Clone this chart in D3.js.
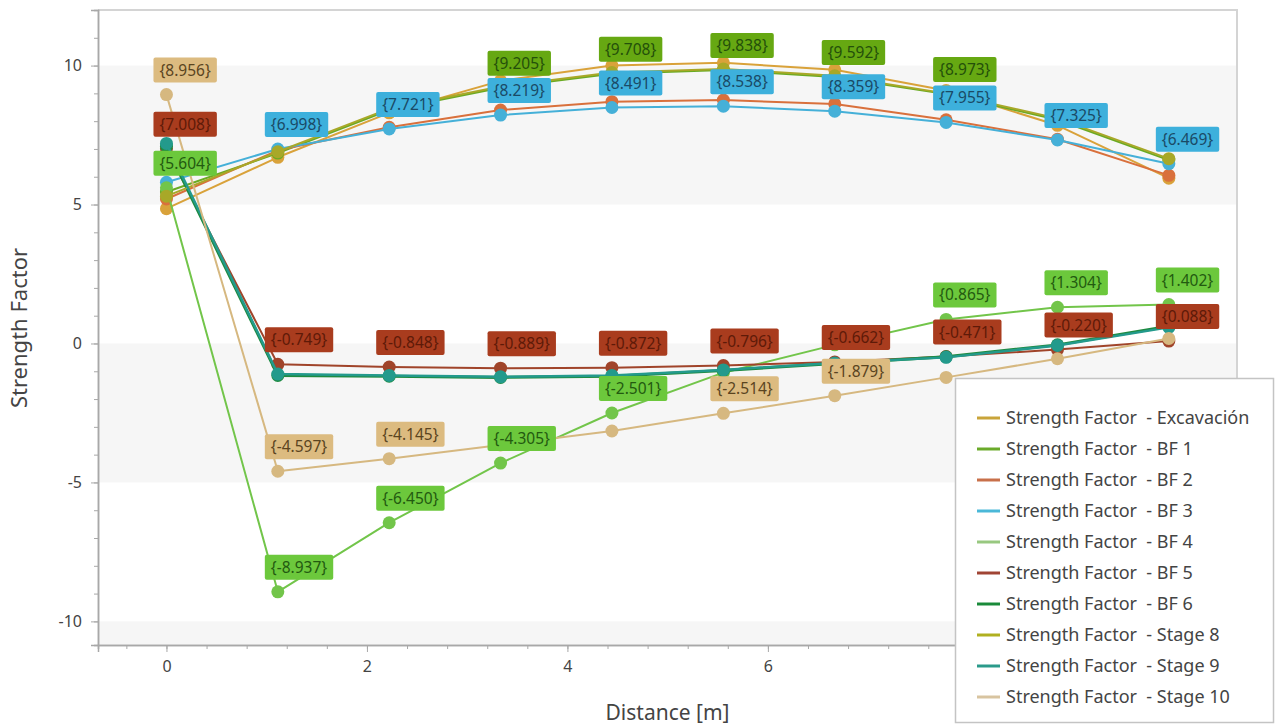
<!DOCTYPE html>
<html>
<head>
<meta charset="utf-8">
<script src="https://cdn.jsdelivr.net/npm/d3@7"></script>
<style>
  html, body { margin: 0; padding: 0; background: #ffffff; }
  svg { display: block; font-family: "Noto Sans", "Open Sans", sans-serif; }
</style>
</head>
<body>
<svg id="chart" width="1275" height="726"></svg>
<script>
// Distance along the section [m]
const distances = [0, 1.111, 2.222, 3.333, 4.444, 5.556, 6.667, 7.778, 8.889, 10];

// Strength factor per stage
const excavacion = [4.85, 6.70, 8.30, 9.45, 10.00, 10.10, 9.85, 9.10, 7.85, 5.95];
const bf1        = [5.45, 6.85, 8.40, 9.205, 9.708, 9.838, 9.592, 8.973, 8.05, 6.60];
const bf2        = [5.20, 6.95, 7.78, 8.40, 8.70, 8.76, 8.62, 8.05, 7.35, 6.05];
const bf3        = [5.80, 6.998, 7.721, 8.219, 8.491, 8.538, 8.359, 7.955, 7.325, 6.469];
const bf4        = [5.604, -8.937, -6.450, -4.305, -2.501, -1.05, -0.05, 0.865, 1.304, 1.402];
const bf5        = [7.008, -0.749, -0.848, -0.889, -0.872, -0.796, -0.662, -0.471, -0.220, 0.088];
const bf6        = [7.10, -1.15, -1.18, -1.22, -1.18, -0.97, -0.72, -0.48, -0.05, 0.62];
const stage8     = [5.30, 6.90, 8.45, 9.25, 9.75, 9.88, 9.63, 9.00, 8.10, 6.65];
const stage9     = [7.20, -1.10, -1.15, -1.20, -1.15, -0.95, -0.70, -0.50, -0.07, 0.58];
const stage10    = [8.956, -4.597, -4.145, -3.65, -3.15, -2.514, -1.879, -1.22, -0.55, 0.18];

const seriesNames = [
  "Strength Factor  - Excavación",
  "Strength Factor  - BF 1",
  "Strength Factor  - BF 2",
  "Strength Factor  - BF 3",
  "Strength Factor  - BF 4",
  "Strength Factor  - BF 5",
  "Strength Factor  - BF 6",
  "Strength Factor  - Stage 8",
  "Strength Factor  - Stage 9",
  "Strength Factor  - Stage 10"
];
const seriesValues = [excavacion, bf1, bf2, bf3, bf4, bf5, bf6, stage8, stage9, stage10];
const lineColors = ["#d9a23a", "#6aaa22", "#d9703c", "#45b0d8", "#72c54a",
                    "#a0442a", "#1e8a40", "#a8a828", "#239a8c", "#d6b880"];
const legendColors = ["#c9a43a", "#6aaa2a", "#c8704a", "#4ab8d8", "#98c880",
                      "#a04434", "#1a8a3a", "#b0b020", "#2a9a8a", "#d8c4a0"];
const lineWidths = [2, 2, 2, 2, 2, 2, 3, 2, 2.5, 2];

// Value tags shown on the chart (series index, point indices)
const tagSeries  = [9, 5, 4, 3, 1];
const tagPoints  = [
  [0, 1, 2, 5, 6],
  [0, 1, 2, 3, 4, 5, 6, 7, 8, 9],
  [0, 1, 2, 3, 4, 7, 8, 9],
  [1, 2, 3, 4, 5, 6, 7, 8, 9],
  [3, 4, 5, 6, 7]
];
const tagFill = { 9: "#dcbb80", 5: "#a93c1e", 4: "#6cc83c", 3: "#3db0dc", 1: "#66a812" };
const tagText = { 9: "#5a4420", 5: "#5e1a08", 4: "#235a10", 3: "#1a4a66", 1: "#24500a" };

// tick labels (8 and 10 sit under the legend)
const xTickValues = [0, 2, 4, 6, 8, 10];
const xTickLabels = ["0", "2", "4", "6", "", ""];
const yTickValues = [-10, -5, 0, 5, 10];
const yTickLabels = ["-10", "-5", "0", "5", "10"];
const bandRanges = [[5, 10], [-5, 0], [-15, -10]];

const svg = d3.select("#chart");
const plotLeft = 98, plotRight = 1237, plotTop = 10, plotBottom = 645;

const x = d3.scaleLinear().domain([-0.683, 10.68]).range([plotLeft, plotRight]);
const y = d3.scaleLinear().domain([-10.85, 12.0]).range([plotBottom, plotTop]);

// alternating background bands
svg.append("g").selectAll("rect").data(bandRanges).join("rect")
  .attr("x", plotLeft)
  .attr("width", plotRight - plotLeft)
  .attr("y", d => y(Math.min(d[1], 12)))
  .attr("height", d => y(Math.max(d[0], -10.85)) - y(Math.min(d[1], 12)))
  .attr("fill", "#f6f6f6");

// frame (top, right)
svg.append("path")
  .attr("d", `M${plotLeft},${plotTop}H${plotRight}V${plotBottom}`)
  .attr("fill", "none").attr("stroke", "#d4d4d4").attr("stroke-width", 2);

// axes
const xAxis = svg.append("g").attr("transform", `translate(0,${plotBottom})`)
  .call(d3.axisBottom(x).tickValues(xTickValues).tickSize(7).tickPadding(9)
    .tickFormat((d, i) => xTickLabels[i]));
const xMinor = svg.append("g").attr("transform", `translate(0,${plotBottom})`)
  .call(d3.axisBottom(x).tickValues(d3.range(-0.4, 10.7, 0.4)).tickSize(4).tickFormat(""));
const yAxis = svg.append("g").attr("transform", `translate(${plotLeft},0)`)
  .call(d3.axisLeft(y).tickValues(yTickValues).tickSize(7).tickPadding(9)
    .tickFormat((d, i) => yTickLabels[i]));
const yMinor = svg.append("g").attr("transform", `translate(${plotLeft},0)`)
  .call(d3.axisLeft(y).tickValues(d3.range(-10, 12, 1)).tickSize(4).tickFormat(""));

[xAxis, xMinor, yAxis, yMinor].forEach(g => {
  g.select(".domain").attr("stroke", "#a8a8a8").attr("stroke-width", 1.5);
  g.selectAll(".tick line").attr("stroke", "#a8a8a8");
  g.selectAll(".tick text").attr("fill", "#444").style("font-size", "16px")
    .style("font-family", "'Noto Sans', sans-serif");
});

// axis titles
svg.append("text")
  .attr("x", (plotLeft + plotRight) / 2).attr("y", 720)
  .attr("text-anchor", "middle").attr("fill", "#444")
  .style("font-size", "21px").text("Distance [m]");
svg.append("text")
  .attr("transform", `translate(27,328) rotate(-90)`)
  .attr("text-anchor", "middle").attr("fill", "#444")
  .style("font-size", "22px").text("Strength Factor");

// series lines and markers
const line = d3.line().x((d, i) => x(distances[i])).y(d => y(d));
const plot = svg.append("g");
seriesValues.forEach((vals, s) => {
  const g = plot.append("g");
  g.append("path").datum(vals)
    .attr("d", line).attr("fill", "none")
    .attr("stroke", lineColors[s]).attr("stroke-width", lineWidths[s])
    .attr("stroke-linejoin", "round");
  g.selectAll("circle").data(vals).join("circle")
    .attr("cx", (d, i) => x(distances[i]))
    .attr("cy", d => y(d))
    .attr("r", 6.5)
    .attr("fill", lineColors[s]);
});

// value tags
const tags = svg.append("g");
tagSeries.forEach((s, k) => {
  tagPoints[k].forEach(i => {
    const v = seriesValues[s][i];
    const px = x(distances[i]), py = y(v);
    const g = tags.append("g");
    const t = g.append("text")
      .attr("fill", tagText[s])
      .style("font-size", "15.5px")
      .attr("text-anchor", "middle")
      .text(`{${v.toFixed(3)}}`);
    const w = t.node().getComputedTextLength() + 12;
    const h = 25;
    const bx = px - 13, by = py - 12 - h;
    g.insert("rect", "text")
      .attr("x", bx).attr("y", by).attr("width", w).attr("height", h)
      .attr("rx", 2).attr("fill", tagFill[s]);
    t.attr("x", bx + w / 2).attr("y", by + h / 2 + 5.5);
  });
});

// legend
const lg = svg.append("g").attr("transform", "translate(955,378)");
lg.append("rect")
  .attr("x", 0.5).attr("y", 0.5).attr("width", 318).attr("height", 344)
  .attr("fill", "#ffffff").attr("stroke", "#c4c4c4").attr("stroke-width", 1.5);
seriesNames.forEach((name, s) => {
  const ry = 40 + s * 31;
  lg.append("line")
    .attr("x1", 22).attr("x2", 45).attr("y1", ry).attr("y2", ry)
    .attr("stroke", legendColors[s]).attr("stroke-width", 3);
  lg.append("text")
    .attr("x", 51).attr("y", ry + 6)
    .attr("fill", "#444").style("font-size", "18px")
    .style("white-space", "pre")
    .attr("xml:space", "preserve")
    .text(name);
});
</script>
</body>
</html>
